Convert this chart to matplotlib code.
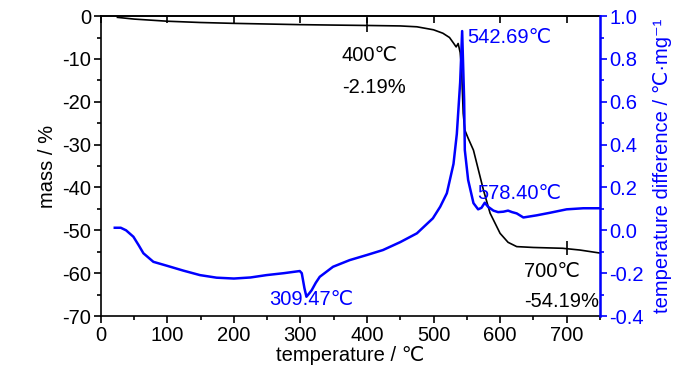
import matplotlib

matplotlib.use("Agg")
import matplotlib.pyplot as plt  # noqa: E402
from matplotlib.ticker import FormatStrFormatter, MultipleLocator  # noqa: E402

plt.rcParams["font.family"] = ["Liberation Sans", "DejaVu Sans"]
plt.rcParams["axes.unicode_minus"] = False

BLUE = "#0000ff"

# TG curve (mass loss, %)
tg_temp = [25, 50, 100, 150, 200, 250, 300, 350, 400, 450, 475, 500, 514, 524, 530,
           534, 537, 540, 542, 544.6, 547, 552, 560, 575, 585, 600, 612, 625, 650,
           694, 720, 750]
tg_mass = [-0.3, -0.7, -1.2, -1.5, -1.7, -1.85, -2.0, -2.1, -2.19, -2.3, -2.5, -3.2,
           -4.0, -5.0, -6.3, -7.2, -6.4, -8.5, -11.8, -22.7, -26.6, -28.5, -31.3,
           -40.6, -46.0, -50.7, -52.8, -53.8, -54.0, -54.19, -54.6, -55.3]

# DTA curve (temperature difference, degC/mg)
dta_temp = [21, 30, 38, 49, 57, 64, 79, 99, 124, 149, 174, 200, 225, 249, 275, 299,
            302, 306, 309, 313, 317, 323, 329, 349, 374, 400, 424, 450, 475, 499, 510,
            520, 530, 535, 540, 543, 546, 547, 552, 560, 567, 572, 577, 582, 590, 597,
            605, 612, 618, 625, 635, 655, 675, 700, 725, 750]
dta_val = [0.012, 0.012, 0.0, -0.03, -0.07, -0.107, -0.147, -0.165, -0.188, -0.209,
           -0.221, -0.225, -0.22, -0.209, -0.2, -0.19, -0.2, -0.27, -0.31, -0.295,
           -0.279, -0.245, -0.217, -0.17, -0.139, -0.115, -0.092, -0.055, -0.014,
           0.056, 0.11, 0.173, 0.31, 0.45, 0.69, 0.93, 0.608, 0.375, 0.235, 0.127,
           0.098, 0.105, 0.129, 0.11, 0.092, 0.085, 0.087, 0.092, 0.085, 0.079, 0.06,
           0.07, 0.082, 0.098, 0.103, 0.103]

# marked points on TG curve
mark_temp = [400, 700]
mark_mass = [-2.19, -54.19]

fig = plt.figure(figsize=(7.0, 3.74), dpi=100)
ax = fig.add_axes([0.144, 0.155, 0.713, 0.802])
ax2 = ax.twinx()

ax.plot(tg_temp, tg_mass, color="black", linewidth=1.2, zorder=3)
ax.plot(mark_temp, mark_mass, linestyle="none", marker="|", markersize=10,
        markeredgewidth=1.2, color="black")
ax2.plot(dta_temp, dta_val, color=BLUE, linewidth=1.8)

ax.set_xlim(0, 750)
ax.set_ylim(-70, 0)
ax2.set_ylim(-0.4, 1.0)

ax.xaxis.set_major_locator(MultipleLocator(100))
ax.xaxis.set_minor_locator(MultipleLocator(50))
ax.yaxis.set_major_locator(MultipleLocator(10))
ax.yaxis.set_minor_locator(MultipleLocator(5))
ax2.yaxis.set_major_locator(MultipleLocator(0.2))
ax2.yaxis.set_minor_locator(MultipleLocator(0.1))
ax2.yaxis.set_major_formatter(FormatStrFormatter("%.1f"))

fs = 14.5
ax.tick_params(axis="both", which="major", direction="out", length=5, width=1.2,
               labelsize=fs, pad=2)
ax.tick_params(axis="both", which="minor", direction="out", length=3, width=1.2)
ax2.tick_params(axis="y", which="major", direction="out", length=5, width=1.2,
                labelsize=fs, colors=BLUE, pad=2)
ax2.tick_params(axis="y", which="minor", direction="out", length=3, width=1.2,
                colors=BLUE)

top = ax.secondary_xaxis("top")
top.xaxis.set_major_locator(MultipleLocator(100))
top.tick_params(direction="in", length=5, width=1.2, labeltop=False)

for s in ["left", "bottom", "top"]:
    ax.spines[s].set_linewidth(1.2)
top.spines["top"].set_linewidth(1.2)
ax2.spines["right"].set_color(BLUE)
ax2.spines["right"].set_linewidth(1.8)
for s in ["left", "bottom", "top"]:
    ax2.spines[s].set_visible(False)

ax.set_xlabel("temperature / ℃", fontsize=fs, labelpad=1)
ax.set_ylabel("mass / %", fontsize=fs, labelpad=4)
ax2.set_ylabel("temperature difference / ℃·mg⁻¹", fontsize=fs, color=BLUE,
               labelpad=6)

# annotations
ax.text(404, -9.1, "400℃", fontsize=fs, ha="center", va="center")
ax.text(410, -16.6, "-2.19%", fontsize=fs, ha="center", va="center")
ax.text(678, -59.7, "700℃", fontsize=fs, ha="center", va="center")
ax.text(693, -66.7, "-54.19%", fontsize=fs, ha="center", va="center")
ax2.text(551, 0.90, "542.69℃", fontsize=fs, color=BLUE, ha="left", va="center")
ax2.text(566, 0.174, "578.40℃", fontsize=fs, color=BLUE, ha="left", va="center")
ax2.text(316, -0.325, "309.47℃", fontsize=fs, color=BLUE, ha="center", va="center")

fig.savefig("out.png", dpi=100)
